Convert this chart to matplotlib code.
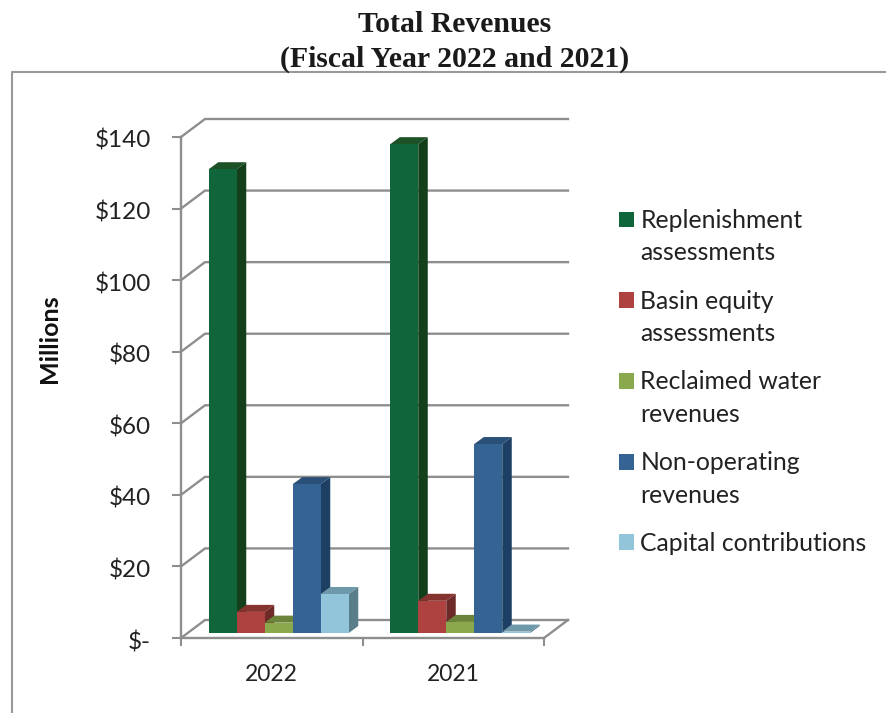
import matplotlib
matplotlib.use("Agg")
import matplotlib.pyplot as plt
from matplotlib.lines import Line2D
from matplotlib.patches import Patch, Polygon
from matplotlib.transforms import Affine2D

plt.rcParams['font.family'] = ['Lato', 'DejaVu Sans']

years = ["2022", "2021"]
series_names = ["Replenishment\nassessments", "Basin equity\nassessments",
                "Reclaimed water\nrevenues", "Non-operating\nrevenues",
                "Capital contributions"]
replenishment = [129.6, 136.6]
basin_equity = [5.9, 9.0]
reclaimed_water = [2.9, 3.1]
non_operating = [41.6, 52.8]
capital = [10.9, 0.4]
y_ticks = [0, 20, 40, 60, 80, 100, 120, 140]
y_labels = ["$-", "$20", "$40", "$60", "$80", "$100", "$120", "$140"]

# front, top, side
colors = [("#10663a", "#1c5226", "#143f1b"),
          ("#ad4240", "#84332f", "#6e2a27"),
          ("#8aa94c", "#6b8439", "#5d7330"),
          ("#356394", "#2b5078", "#1c3f63"),
          ("#92c5d9", "#6e99aa", "#5a7d8a")]
GRID = "#8e8e8e"
TEXT = "#222222"

W, H = 886, 713
fig = plt.figure(figsize=(W / 100, H / 100), dpi=100)
ax = fig.add_axes([181 / W, (H - 638) / H, 363 / W, 501 / H])
ax.set_xlim(0, 2)
ax.set_ylim(0, 140)
ax.patch.set_alpha(0)

# pixels to data units, used for the fake 3d depth
px_x = 2 / 363
px_y = 140 / 501
wall_dx, wall_dy = 24 * px_x, 18 * px_y
bar_dx, bar_dy = 9.5 * px_x, 7 * px_y

# walls and floor
for v in y_ticks:
    ax.plot([0, wall_dx, 2 + wall_dx], [v, v + wall_dy, v + wall_dy], color=GRID, lw=1.7,
            clip_on=False, zorder=1, solid_joinstyle="miter")
ax.plot([2, 2 + wall_dx], [0, wall_dy], color=GRID, lw=1.7, clip_on=False, zorder=1)

# bars sit a bit behind the front edge of the floor
shift = ax.transData + Affine2D().translate(7, 5)
all_series = [replenishment, basin_equity, reclaimed_water, non_operating, capital]
bar_w = 28 / 181.5
z = 3
for i in range(len(years)):
    x0 = i + (1 - 5 * bar_w) / 2
    for k, values in enumerate(all_series):
        v = values[i]
        left = x0 + k * bar_w
        right = left + bar_w
        front, top, side = colors[k]
        ax.add_patch(Polygon([(right, 0), (right, v), (right + bar_dx, v + bar_dy), (right + bar_dx, bar_dy)],
                             closed=True, fc=side, ec="none", transform=shift, clip_on=False, zorder=z))
        ax.add_patch(Polygon([(left, v), (right, v), (right + bar_dx, v + bar_dy), (left + bar_dx, v + bar_dy)],
                             closed=True, fc=top, ec="none", transform=shift, clip_on=False, zorder=z))
        ax.bar(left, v, width=bar_w, align="edge", color=front, transform=shift, clip_on=False, zorder=z + 1)
        z += 2

for s in ["top", "right"]:
    ax.spines[s].set_visible(False)
for s in ["left", "bottom"]:
    ax.spines[s].set_color(GRID)
    ax.spines[s].set_linewidth(1.7)
    ax.spines[s].set_zorder(2)

ax.set_yticks(y_ticks, y_labels)
ax.tick_params(axis="y", length=6.5, width=1.5, color=GRID, pad=15, labelsize=17.5, labelcolor=TEXT)
# labels sit slightly under their ticks in the original
for t in ax.get_yticklabels():
    t.set_transform(t.get_transform() + Affine2D().translate(0, -2))
ax.set_xticks([0, 1, 2], ["", "", ""])
ax.tick_params(axis="x", length=6, width=1.5, color=GRID)
ax.set_xticks([0.5, 1.5], years, minor=True)
ax.tick_params(axis="x", which="minor", length=0, pad=18.5, labelsize=16.5, labelcolor=TEXT)

ax.set_ylabel("Millions", fontsize=18, fontweight="bold", color="#111111")
ax.yaxis.set_label_coords((61 - 181) / 363, (638 - 339) / 501)

handles = [Patch(fc=c[0], ec="none") for c in colors]
leg = ax.legend(handles, series_names, loc="upper left", bbox_to_anchor=(619 / W, (H - 209) / H),
                bbox_transform=fig.transFigure, frameon=False, fontsize=17.8, labelcolor=TEXT,
                handlelength=0.61, handleheight=0.61, handletextpad=0.25, labelspacing=1.02,
                borderpad=0, borderaxespad=0)
for t in leg.get_texts():
    t.set_linespacing(1.5)
# square sits on the first line of a two line entry
for p, name in zip(leg.get_patches(), series_names):
    if "\n" in name:
        p.set_y(p.get_y() + 13)

fig.text(455 / W, 1 - 42 / H, "Total Revenues\n(Fiscal Year 2022 and 2021)", ha="center", va="center",
         family=["Liberation Serif"], fontweight="bold", fontsize=21.4, color="#1a1a1a", linespacing=1.36)

# outer frame of the figure in the report
fig.add_artist(Line2D([12 / W, 12 / W, 1], [0, 1 - 72 / H, 1 - 72 / H], color="#999999", lw=1.5))

fig.savefig("out.png", dpi=100)
